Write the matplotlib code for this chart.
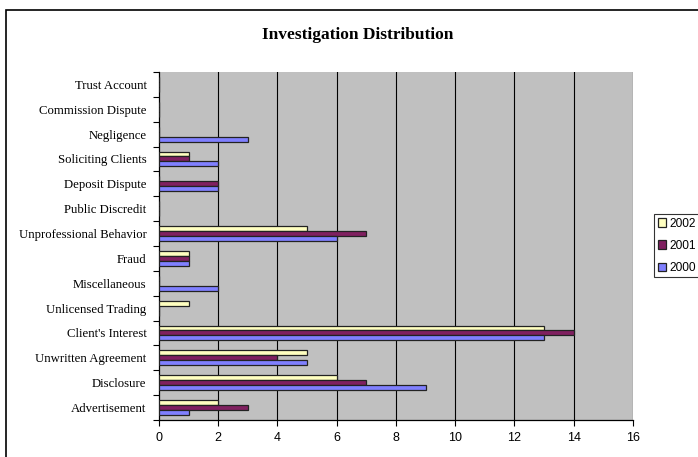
import matplotlib
matplotlib.use("Agg")
import matplotlib.pyplot as plt
from matplotlib.patches import Rectangle
import numpy as np

# categories listed bottom to top
categories = ["Advertisement", "Disclosure", "Unwritten Agreement", "Client's Interest",
              "Unlicensed Trading", "Miscellaneous", "Fraud", "Unprofessional Behavior",
              "Public Discredit", "Deposit Dispute", "Soliciting Clients", "Negligence",
              "Commission Dispute", "Trust Account"]
y2002 = [2, 6, 5, 13, 1, 0, 1, 5, 0, 0, 1, 0, 0, 0]
y2001 = [3, 7, 4, 14, 0, 0, 1, 7, 0, 2, 1, 0, 0, 0]
y2000 = [1, 9, 5, 13, 0, 2, 1, 6, 0, 2, 2, 3, 0, 0]
xticks = [0, 2, 4, 6, 8, 10, 12, 14, 16]

serif = "Liberation Serif"
sans = "Liberation Sans"

fig = plt.figure(figsize=(6.98, 4.57), dpi=100)
ax = fig.add_axes([0.2278, 0.081, 0.679, 0.7615])
ax.set_facecolor("#C0C0C0")

# outer chart border
fig.patches.append(Rectangle((6 / 698, -0.1), 1.2, 1.1 - 10 / 457, transform=fig.transFigure,
                             fill=False, edgecolor="black", linewidth=1.2))

y = np.arange(len(categories))
h = 0.2
kw = dict(height=h, edgecolor="#222222", linewidth=0.9, zorder=3)
ax.barh(y + h, y2002, color="#FFFFC0", label="2002", **kw)
ax.barh(y, y2001, color="#802060", label="2001", **kw)
ax.barh(y - h, y2000, color="#8080FF", label="2000", **kw)

ax.set_xlim(0, 16)
ax.set_ylim(-0.5, len(categories) - 0.5)
ax.set_xticks(xticks)
ax.set_xticklabels([str(v) for v in xticks], fontfamily=sans, fontsize=9)
for v in xticks[1:]:
    ax.axvline(v, color="black", linewidth=0.8, zorder=1)

ax.set_yticks(y)
ax.set_yticklabels(categories, fontfamily=serif, fontsize=9.2)
ax.set_yticks(np.arange(-0.5, len(categories), 1), minor=True)
ax.tick_params(axis="y", which="major", length=0, pad=9)
ax.tick_params(axis="y", which="minor", length=4, width=0.8, direction="out")
ax.tick_params(axis="x", length=4, width=0.8, pad=5)

for s in ("top", "right"):
    ax.spines[s].set_visible(False)
for s in ("left", "bottom"):
    ax.spines[s].set_linewidth(0.9)

fig.text(0.512, 0.923, "Investigation Distribution", ha="center", va="center",
         fontfamily=serif, fontweight="bold", fontsize=12.5)

leg = fig.legend(loc="upper left", bbox_to_anchor=(654 / 698, 1 - 214 / 457),
                 prop={"family": sans, "size": 8.6}, frameon=True, fancybox=False,
                 edgecolor="black", handlelength=0.7, handleheight=0.7,
                 handletextpad=0.3, labelspacing=0.85, borderpad=0.3, borderaxespad=0)
leg.get_frame().set_linewidth(0.8)

fig.savefig("out.png", dpi=100)
